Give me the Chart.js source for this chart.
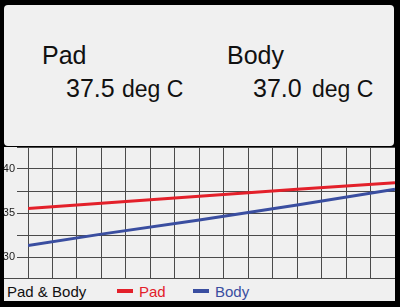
<!DOCTYPE html>
<html>
<head>
<meta charset="utf-8">
<script src="https://cdn.jsdelivr.net/npm/chart.js@4"></script>
<style>
    body { margin: 0; background: #000; }
    #frame { position: relative; width: 400px; height: 307px; background: #000; overflow: hidden;
             font-family: "Liberation Sans", Arial, sans-serif; color: #111; }
    .panel { position: absolute; background: #f0f0f0; }
    .txt { position: absolute; line-height: 1; white-space: nowrap; }
    .dash { position: absolute; width: 16px; height: 4px; }
</style>
</head>
<body>
<div id="frame">
    <!-- readout panel -->
    <div class="panel" style="left:4px; top:5px; width:390px; height:141px; border-radius:4px;"></div>
    <div class="txt" style="left:42px; top:43px; font-size:25px;">Pad</div>
    <div class="txt" style="left:66px; top:76px; font-size:25px;" id="pad-value"></div>
    <div class="txt" style="left:122px; top:78px; font-size:23px;">deg C</div>
    <div class="txt" style="left:227px; top:43px; font-size:25px;">Body</div>
    <div class="txt" style="left:253px; top:76px; font-size:25px;" id="body-value"></div>
    <div class="txt" style="left:312px; top:78px; font-size:23px;">deg C</div>

    <!-- chart -->
    <div class="panel" style="left:4px; top:147px; width:391px; height:132px;">
        <canvas id="temp-chart" width="391" height="132"></canvas>
    </div>

    <!-- legend bar -->
    <div class="panel" style="left:4px; top:278px; width:391px; height:23px; border-top:1px solid #4a4a4a; box-sizing:border-box;"></div>
    <div class="txt" style="left:7px; top:284px; font-size:15px;">Pad &amp; Body</div>
    <div class="dash" id="pad-dash" style="left:117px; top:289px;"></div>
    <div class="txt" id="pad-label" style="left:139px; top:284px; font-size:15px;"></div>
    <div class="dash" id="body-dash" style="left:193px; top:289px;"></div>
    <div class="txt" id="body-label" style="left:215px; top:284px; font-size:15px;"></div>
</div>

<script>
// Readings
const seriesNames = ['Pad', 'Body'];
const seriesColors = ['#e3202a', '#3a4ea0'];
const currentReadings = ['37.5', '37.0'];

// Sample positions along the time axis (grid columns 0..15)
const samplePositions = [0, 3, 7, 11, 15];
const padTemps  = [35.5, 36.1, 36.9, 37.7, 38.45];
const bodyTemps = [31.3, 32.6, 34.2, 35.9, 37.7];

// Axis settings
const yTickLabels = [30, 35, 40];
const yMin = 27.5, yMax = 42.5, yStep = 2.5;
const xMin = 0, xMax = 15;

document.getElementById('pad-value').textContent = currentReadings[0];
document.getElementById('body-value').textContent = currentReadings[1];
document.getElementById('pad-label').textContent = seriesNames[0];
document.getElementById('body-label').textContent = seriesNames[1];
document.getElementById('pad-label').style.color = seriesColors[0];
document.getElementById('body-label').style.color = seriesColors[1];
document.getElementById('pad-dash').style.background = seriesColors[0];
document.getElementById('body-dash').style.background = seriesColors[1];

function toPoints(values) {
    return values.map((v, i) => ({ x: samplePositions[i], y: v }));
}

const gridColor = '#4a4a4a';

new Chart(document.getElementById('temp-chart'), {
    type: 'line',
    data: {
        datasets: [
            { label: seriesNames[0], data: toPoints(padTemps), borderColor: seriesColors[0],
              borderWidth: 3, pointRadius: 0, tension: 0 },
            { label: seriesNames[1], data: toPoints(bodyTemps), borderColor: seriesColors[1],
              borderWidth: 3, pointRadius: 0, tension: 0 }
        ]
    },
    options: {
        responsive: false,
        animation: false,
        devicePixelRatio: 1,
        layout: { padding: 0 },
        plugins: { legend: { display: false }, tooltip: { enabled: false } },
        scales: {
            x: {
                type: 'linear',
                min: xMin,
                max: xMax,
                ticks: { display: false, stepSize: 1 },
                grid: { color: gridColor, lineWidth: 1, drawTicks: false },
                border: { display: false }
            },
            y: {
                min: yMin,
                max: yMax,
                afterFit: function(axis) {
                    axis.width = 24;
                    // plot fills the full height, no room kept for end labels
                    axis.paddingTop = 0;
                    axis.paddingBottom = 0;
                },
                ticks: {
                    stepSize: yStep,
                    padding: 2,
                    color: '#222',
                    font: { family: 'Liberation Sans', size: 11 },
                    callback: function(value) {
                        return yTickLabels.includes(value) ? String(value) : '';
                    }
                },
                grid: { color: gridColor, lineWidth: 1, tickLength: 11 },
                border: { color: gridColor }
            }
        }
    }
});
</script>
</body>
</html>
